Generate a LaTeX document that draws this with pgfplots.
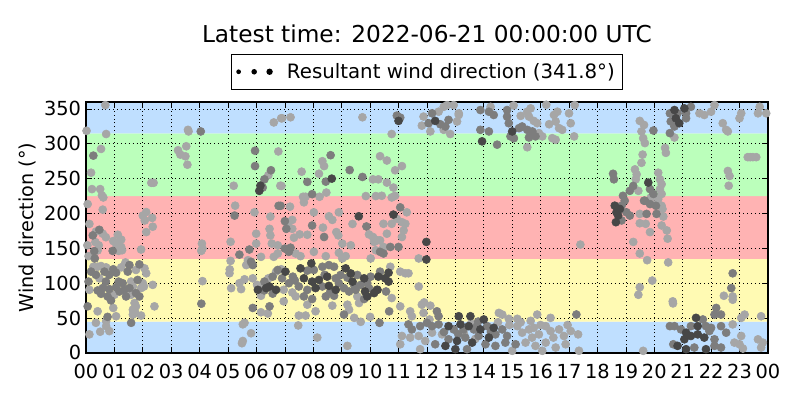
\documentclass[border=0pt]{standalone}
\usepackage{pgfplots}
\pgfplotsset{compat=1.18}
\usepackage{fontspec}
\setmainfont{DejaVu Sans}
\definecolor{bblue}{RGB}{191,223,255}
\definecolor{bgreen}{RGB}{187,255,187}
\definecolor{bred}{RGB}{255,179,179}
\definecolor{byellow}{RGB}{255,250,179}
\definecolor{ptL}{gray}{0.65}
\definecolor{ptM}{gray}{0.49}
\definecolor{ptD}{gray}{0.28}
\begin{document}
\begin{tikzpicture}
\useasboundingbox (-61.9bp,-33.8bp) rectangle (514.1bp,254.1bp);
\begin{axis}[
  at={(0,0)}, anchor=south west,
  scale only axis, width=491bp, height=180.7bp,
  xmin=0, xmax=24, ymin=0, ymax=360,
  xtick={0,1,...,24},
  xticklabels={00,01,02,03,04,05,06,07,08,09,10,11,12,13,14,15,16,17,18,19,20,21,22,23,00},
  ytick={0,50,...,350},
  /pgf/number format/assume math mode=true,
  tick label style={font=\fontsize{14}{17}\selectfont, black},
  xticklabel style={yshift=-4.4bp},
  tick align=inside,
  major tick length=4bp,
  tick style={black, line width=0.5bp},
  axis line style={black, line width=1bp},
  grid=major,
  major grid style={black, line width=0.5bp, dash pattern=on 0.7bp off 2.1bp},
  axis on top,
  ylabel={Wind direction (°)},
  ylabel style={at={(axis description cs:-0.0851,0.5)}, anchor=center, font=\fontsize{13.9}{16}\selectfont},
  title={Latest time: 2022-06-21 00:00:00 UTC},
  title style={at={(axis description cs:0.5,1)}, anchor=base, yshift=36.5bp, font=\fontsize{16.8}{20}\selectfont},
  legend style={at={(0.5,1.048)}, anchor=south, draw=black, line width=0.8bp,
    font=\fontsize{14.3}{17}\selectfont, inner xsep=3.5bp, inner ysep=4.5bp},
  legend cell align=left,
]
% background bands
\addplot[draw=none, fill=bblue, forget plot] coordinates {(0,0) (24,0) (24,45) (0,45) (0,0)};
\addplot[draw=none, fill=byellow, forget plot] coordinates {(0,45) (24,45) (24,135) (0,135) (0,45)};
\addplot[draw=none, fill=bred, forget plot] coordinates {(0,135) (24,135) (24,225) (0,225) (0,135)};
\addplot[draw=none, fill=bgreen, forget plot] coordinates {(0,225) (24,225) (24,315) (0,315) (0,225)};
\addplot[draw=none, fill=bblue, forget plot] coordinates {(0,315) (24,315) (24,360) (0,360) (0,315)};

% light points
\addplot[only marks, mark=*, mark size=2.9bp, color=ptL, mark options={draw=ptL, fill=ptL}, forget plot] coordinates {
(0.68,355.5) (0.02,318.6) (0.71,314) (0.53,292.6) (3.24,290.7) (3.32,284.5) (0.18,258.5) (2.3,244) (2.38,244) (0.21,235) (0.5,235) (0.56,226) (0.61,223) (0.06,213.5) (0.59,205.5) (2.0,197) (2.12,202) (2.07,190) (2.33,193.7) (2.35,181) (2.12,173.3) (0.12,185) (0.35,174) (0.59,171) (0.7,166) (1.12,169.5) (1.24,162.5) (1.06,156.8) (0.96,160.5) (0.33,159) (0.45,154.4) (0.05,154.4) (1.94,148.3) (0.41,147) (1.24,152) (1.27,147.3) (1.15,146.3) (0.09,138.8) (1.39,129.8) (2.06,121.3) (0.26,123.6) (0.41,123.6) (0.53,124.6) (0.71,122.7) (1.24,122.7) (1.76,119) (2.12,114.2) (0.47,107) (1.59,102.3) (2.0,100) (0.12,90.5) (1.65,95.3) (1.94,93) (2.04,95.3) (2.35,97.6) (1.0,83.4) (1.59,83.4) (1.71,71.6) (1.76,66.8) (0.41,59.7) (0.96,64.5) (1.65,62) (1.74,57.4) (1.94,53.6) (1.65,55) (2.41,66.8) (1.06,52.6) (0.35,43.2) (0.71,38.4) (0.82,31.3) (0.5,30.4) (0.12,26.6) (0.71,45.5)
(3.59,320) (3.61,317.7) (3.53,296.4) (3.5,282) (3.57,270) (6.61,330.6) (6.87,336.6) (6.42,255) (5.2,239.8) (6.77,289) (6.84,239.8) (5.25,211.2) (5.93,201.7) (6.49,195.6) (4.08,156.8) (4.1,149.7) (4.06,146.4) (5.09,159.4) (5.99,171) (5.99,156.8) (6.46,178) (6.49,168.6) (6.54,156.8) (6.75,154.4) (6.16,137.8) (6.61,137.8) (6.75,142.6) (5.09,132) (5.7,133) (5.64,126) (5.06,119.8) (5.05,114.2) (4.1,103) (5.4,100) (5.58,105.6) (5.87,107) (5.11,92.9) (5.46,91.5) (6.02,97.6) (6.16,95.3) (6.42,107) (6.69,116.6) (6.87,120) (6.16,82) (6.16,58.3) (6.4,56.5) (5.58,43.2) (5.52,41) (5.81,28.2) (5.52,17.1) (5.49,13.9)
(6.9,336.6) (7.2,338) (9.73,338) (8.32,275) (8.38,268) (7.59,260) (8.2,257) (10.1,249) (6.88,239.5) (7.64,224) (7.73,224) (7.67,216) (8.22,224) (8.46,230) (9.85,225) (10.2,225) (7.18,209.8) (8.02,201.7) (8.55,196) (8.67,190.8) (8.9,201.7) (7.12,187.5) (7.26,190.8) (9.38,185) (8.34,179.7) (7.26,178) (7.52,170) (7.79,169.5) (7.32,165.3) (8.81,173.3) (8.88,168.6) (9.96,170) (10.1,166.3) (10.14,159.2) (10.26,161.5) (9.02,156.8) (9.32,154.4) (7.38,142.6) (7.55,138.8) (8.02,145) (8.44,138.8) (8.9,143.5) (9.02,135.5) (9.14,138.8) (10.02,135.5) (10.2,147.3) (6.96,90.5) (7.26,86.7) (9.55,81) (7.38,81) (6.96,74) (7.79,69.2) (8.67,67.8) (9.2,69.2) (9.61,71.6) (9.26,62) (8.08,59.7) (7.73,53.6) (9.44,50.3) (10.0,51.7) (7.49,53.6) (7.47,39.4) (9.67,44.6) (8.14,22) (9.2,10.1)
(11.88,339) (12.41,346) (12.59,353) (12.71,355.5) (12.94,355.5) (13.12,343.7) (12.12,317.7) (12.59,320) (12.82,314) (13.06,331.9) (13.12,341.3) (11.82,326) (10.76,314) (10.35,282.2) (10.59,276) (11.12,268) (10.88,262) (10.29,249) (10.59,244.3) (10.82,237.2) (10.41,225.4) (10.76,223) (10.88,225.4) (11.29,201.7) (10.94,192.3) (11.12,187.5) (10.47,185.2) (10.76,185.2) (11.24,185.2) (11.18,175.7) (11.12,166.3) (10.35,161.5) (10.47,152) (10.59,171) (11.71,135.5) (10.71,123.6) (11.06,116.6) (11.24,114.2) (11.35,114.2) (11.71,95.3) (10.76,78.7) (11.06,66.8) (11.82,69.2) (11.9,72.5) (12.12,67.8) (11.41,59.7) (11.47,52.6) (11.88,57.4) (12.09,47.9) (11.12,24.3) (11.41,22) (11.71,24.3) (11.94,17.2) (12.18,29) (12.53,26.6) (11.06,12.4) (11.76,5.3)
(14.24,353) (15.53,346) (15.65,350.8) (15.59,339) (15.76,332.8) (15.88,329.5) (15.53,295) (15.94,315.3) (16.06,310.6) (16.47,341.3) (16.59,346) (16.53,332) (16.65,322.4) (16.76,320) (16.41,308) (16.53,305.8) (17.06,329.5) (17.0,343.7) (17.18,310.6) (14.53,57.4) (14.65,55) (14.88,48.9) (15.18,48.9) (15.88,55) (16.35,50.3) (15.18,38.4) (15.35,29) (15.59,33.7) (15.76,36) (15.94,26.6) (16.18,38.4) (16.35,31.4) (16.65,33.7) (16.82,24.3) (17.06,31.4) (15.47,14.8) (15.82,10.1) (16.18,14.8) (16.53,7.7) (16.88,12.4) (15.0,3) (16.06,3)
(17.2,355.5) (19.49,332.8) (19.64,327) (19.55,317.7) (19.61,308) (19.67,301) (20.38,294) (20.41,287) (19.59,284.5) (19.55,272.7) (19.32,263.3) (19.38,256) (19.35,249) (20.14,258.5) (20.2,249) (20.26,242) (19.44,232.5) (19.88,223) (20.2,235) (20.26,228) (20.14,220.7) (20.08,213.5) (20.26,211) (20.29,206.5) (19.49,199.4) (19.49,186) (19.7,185.2) (20.32,195.6) (20.26,182.8) (19.85,173.3) (20.44,175.7) (20.47,163.9) (19.26,159.2) (17.4,155.4) (19.49,142.6) (19.75,133) (20.49,129.8) (19.93,103.8) (19.49,94.3) (19.44,83.4) (20.66,71) (17.32,26.6) (17.35,3.1) (19.61,3)
(20.71,309) (21.59,343.7) (21.76,341.3) (22.0,346) (22.12,355.5) (22.41,329.5) (22.53,320) (22.59,317.7) (23.0,336.6) (23.06,343.7) (23.71,353) (23.65,343.7) (23.94,343.7) (23.29,280.8) (23.38,280.8) (23.47,280.8) (23.59,280.8) (22.59,261) (22.65,253.8) (22.62,239.8) (22.76,81) (22.76,76.3) (22.45,82) (20.65,74) (23.18,55) (23.06,50.3) (23.76,52.6) (22.76,40.9) (22.82,14.8) (23.06,24.3) (23.0,12.4) (23.65,19.5) (23.82,14.8) (23.76,7.7) (23.12,6.3)
(13.3,28) (13.55,42) (13.7,20) (14.5,44) (14.9,40) (15.3,44) (15.65,46) (16.0,40) (15.7,22) (16.45,22) (16.95,40) (15.05,355) (15.3,340) (16.2,356) (16.3,328)
};

% medium points
\addplot[only marks, mark=*, mark size=2.9bp, color=ptM, mark options={draw=ptM, fill=ptM}, forget plot] coordinates {
(0.26,283) (0.47,176.6) (0.24,168.6) (0.29,146) (0.94,146.3) (0.31,135.5) (1.53,126) (1.88,127) (0.18,116.6) (0.35,112) (0.65,116.6) (0.96,120) (0.82,112) (1.06,115) (1.47,116.6) (0.09,102.3) (0.7,102.3) (1.15,102.3) (1.29,100) (1.82,104.7) (0.41,89.6) (0.59,93) (0.82,91.5) (1.06,94.3) (1.18,88.1) (1.35,90.5) (1.53,93) (1.76,85.8) (0.53,84.8) (0.76,81) (1.41,81) (1.88,81) (0.88,75.3) (0.06,66.8) (0.76,51.7) (1.59,43.2)
(4.04,317.7) (5.95,290) (5.95,268) (6.51,262) (6.28,249) (6.22,237.2) (5.23,197) (6.78,211) (5.75,148.3) (5.4,141) (5.81,130.7) (5.87,126) (6.28,102.3) (6.57,109.4) (6.75,119) (6.28,89.6) (6.57,85) (4.06,70.6) (5.87,64.5) (6.46,66.8)
(8.61,283.6) (9.28,262.3) (8.44,245.7) (7.79,245.3) (9.73,252.4) (7.96,227.7) (6.85,211) (7.0,189) (7.96,182.8) (8.38,166.3) (9.87,181.4) (7.05,178) (7.0,149.7) (7.2,151) (7.14,145) (7.79,118) (8.02,119) (8.32,123.6) (8.55,126) (8.73,123.6) (7.28,109.4) (6.9,107) (7.14,100) (8.79,107) (8.96,111.8) (9.55,111.8) (10.02,109.4) (9.67,97.6) (9.9,100) (7.49,95.3) (7.79,90.5) (8.32,95.3) (9.08,93) (9.26,88.1) (9.49,90.5) (9.96,93) (7.67,81) (7.96,77.3) (8.44,81) (8.73,82) (9.79,77.3) (9.08,55)
(10.94,340.4) (11.06,337.6) (12.18,343.7) (12.06,329.5) (12.47,328) (12.65,324.8) (12.76,334.3) (11.06,208.8) (10.71,152) (11.0,152) (10.35,145) (10.47,142.6) (10.35,116.6) (10.56,88.1) (10.67,59.7) (10.33,43.2) (12.35,59.7) (12.41,52.6) (11.35,40.9) (11.47,33.7) (11.76,38.4) (12.0,43.2) (12.18,38.4) (12.41,40.9) (12.94,33.7) (13.29,33.7) (13.65,33.7) (12.76,19.5) (13.35,22) (12.29,12.4) (13.41,5.3)
(13.88,348.4) (14.18,346) (14.35,341.3) (14.82,339) (14.88,329.5) (14.82,348.4) (13.88,320) (14.18,317.7) (14.47,298.7) (14.94,310.6) (15.06,308) (15.24,322.4) (15.35,324.8) (15.53,320) (15.71,317.7) (15.82,310.6) (15.59,309) (13.76,38.4) (14.12,38.4) (13.82,24.3) (14.41,26.6) (14.65,33.7) (14.82,24.3) (14.06,12.4) (14.41,10.1) (14.76,14.8) (15.12,12.4)
(19.97,319) (20.55,343.7) (20.58,332) (20.55,315.3) (18.55,257) (18.58,249) (19.26,239.5) (19.14,232.5) (19.85,235) (19.97,228) (19.67,218.3) (18.9,225.4) (18.96,218.3) (18.85,211.2) (18.85,190) (19.14,197) (19.73,199.4) (20.08,199.4) (19.85,213.5) (19.64,218.3) (20.06,211) (19.02,201.7) (17.26,55.1) (20.55,38.4) (20.67,12.4)
(21.29,353) (20.71,324.8) (21.12,336.6) (21.12,343.7) (20.82,343.7) (22.76,114.2) (22.71,93) (22.18,64.5) (22.12,55) (22.35,55) (21.71,48) (21.29,38.4) (21.82,38.4) (22.0,36) (22.35,38.4) (22.53,29) (20.71,38.4) (20.94,33.7) (21.94,31.4) (22.12,19.5) (21.41,7.7) (22.12,10.1) (22.35,7.7)
(8.4,112) (8.9,100) (9.2,108) (9.45,96) (8.6,88) (7.35,104) (12.6,30) (13.1,27) (13.8,45) (14.25,30)
};

% dark points
\addplot[only marks, mark=*, mark size=2.9bp, color=ptD, mark options={draw=ptD, fill=ptD}, forget plot] coordinates {
(6.14,240) (6.10,232.5) (6.05,90.5) (6.34,93) (6.46,95.3) (6.69,90.5)
(8.65,250) (9.6,196) (7.93,128.4) (7.55,121.3) (9.14,121.3) (9.32,114) (7.02,116.6) (7.67,107) (7.96,102.3) (8.2,104.7) (8.49,109.4) (9.38,102.3) (10.26,90.5) (8.08,93) (8.79,90.5) (9.82,88.1) (10.14,85.8) (9.9,81) (9.79,107) (8.55,96.2)
(11.0,332.8) (10.82,198.4) (11.98,159.2) (11.98,134) (10.65,115) (10.53,107) (10.65,102.3) (10.29,109.4) (10.24,90.5) (13.12,52.6) (13.53,52.6) (12.76,38.4) (13.18,40.9) (13.47,38.4) (13.06,17.2) (13.59,14.8) (13.0,5.3) (12.65,10.1) (12.29,332.8)
(13.94,303.5) (14.0,48) (13.88,33.7) (14.35,36) (15.0,317.7) (14.18,22)
(19.79,244.3) (18.61,211.2) (18.67,201.7) (18.79,206.5) (18.73,197) (18.65,187.5)
(20.71,348.4) (21.06,350.8) (20.76,336.6) (20.88,329.5) (21.47,50.3) (21.53,38.4) (21.12,29) (21.29,24.3) (21.53,26.6) (21.76,22) (20.82,10.1) (21.12,5.3) (21.82,5.3) (21.06,19.5)
};

\addlegendimage{legend image code/.code={
  \path[draw=none, fill=none] (-1.4bp,-3bp) rectangle (32.8bp,3bp);
  \fill[black, draw=none] (0bp,0bp) circle (1.7bp);
  \fill[black, draw=none] (11.2bp,0bp) circle (2.0bp);
  \fill[black, draw=none] (22.3bp,0bp) circle (2.3bp);}}
\addlegendentry{Resultant wind direction (341.8°)}
\end{axis}
\end{tikzpicture}
\end{document}
